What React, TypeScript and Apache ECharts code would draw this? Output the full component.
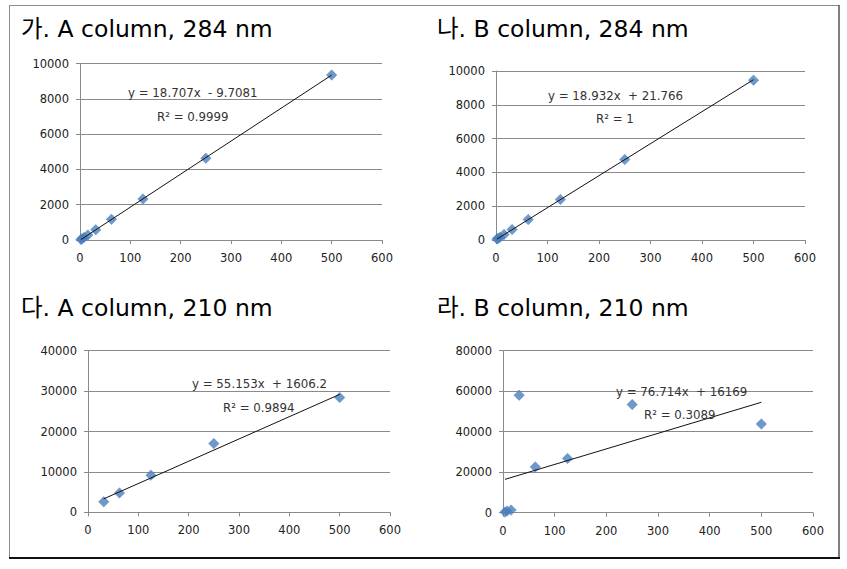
import React, { useEffect, useRef } from "react";
import * as echarts from "echarts";

const titles = ["가. A column, 284 nm", "나. B column, 284 nm", "다. A column, 210 nm", "라. B column, 210 nm"];

const xA284 = [1.95, 3.9, 7.8, 15.6, 31.25, 62.5, 125, 250, 500];
const yA284 = [30, 65, 140, 285, 580, 1170, 2320, 4630, 9345];

const xB284 = [1.95, 3.9, 7.8, 15.6, 31.25, 62.5, 125, 250, 500];
const yB284 = [60, 95, 170, 320, 620, 1210, 2390, 4760, 9460];

const xA210 = [31.25, 62.5, 125, 250, 500];
const yA210 = [2600, 4800, 9200, 17000, 28400];

const xB210 = [3.9, 7.8, 15.6, 31.25, 62.5, 125, 250, 500];
const yB210 = [300, 800, 1300, 58000, 22600, 26800, 53400, 43800];

const slopes = [18.707, 18.932, 55.153, 76.714];
const intercepts = [-9.7081, 21.766, 1606.2, 16169];
const equations = ["y = 18.707x  - 9.7081", "y = 18.932x  + 21.766", "y = 55.153x  + 1606.2", "y = 76.714x  + 16169"];
const rSquared = ["R² = 0.9999", "R² = 1", "R² = 0.9894", "R² = 0.3089"];

const yMax = [10000, 10000, 40000, 80000];
const yInterval = [2000, 2000, 10000, 20000];
const xMax = 600;
const xInterval = 100;

const xs = [xA284, xB284, xA210, xB210];
const ys = [yA284, yB284, yA210, yB210];

// layout (pixels)
const grids = [
  { left: 80, top: 63.5, width: 302, height: 176.5 },
  { left: 496, top: 71, width: 309, height: 169 },
  { left: 88, top: 350.7, width: 302, height: 161.6 },
  { left: 503, top: 350.7, width: 310, height: 162 },
];
const titlePos = [
  { x: 21, y: 29 },
  { x: 437, y: 29 },
  { x: 21, y: 308 },
  { x: 437, y: 308 },
];
const eqPos = [
  { x: 128, y: 93 },
  { x: 548, y: 96 },
  { x: 192, y: 384 },
  { x: 616, y: 392 },
];
const r2Pos = [
  { x: 157, y: 117 },
  { x: 596, y: 119 },
  { x: 223, y: 408 },
  { x: 644, y: 415 },
];

const GRID_COLOR = "#8a8a8a";
const LABEL_FONT = "DejaVu Sans";

export default function App() {
  const ref = useRef<HTMLDivElement>(null);
  useEffect(() => {
    if (!ref.current) return;
    const chart = echarts.init(ref.current, undefined, { renderer: "svg" });

    const plain = (v: number) => String(v);

    const xAxis = grids.map((_, i) => ({
      type: "value",
      gridIndex: i,
      min: 0,
      max: xMax,
      interval: xInterval,
      axisLine: { show: true, onZero: false, lineStyle: { color: GRID_COLOR, width: 1 } },
      axisTick: { show: true, inside: false, length: 4, lineStyle: { color: GRID_COLOR } },
      splitLine: { show: false },
      axisLabel: { color: "#222", fontSize: 11.5, fontFamily: LABEL_FONT, margin: 12, formatter: plain },
    }));
    const yAxis = grids.map((_, i) => ({
      type: "value",
      gridIndex: i,
      min: 0,
      max: yMax[i],
      interval: yInterval[i],
      axisLine: { show: true, onZero: false, lineStyle: { color: GRID_COLOR, width: 1 } },
      axisTick: { show: true, inside: false, length: 4, lineStyle: { color: GRID_COLOR } },
      splitLine: { show: true, lineStyle: { color: GRID_COLOR, width: 1 } },
      axisLabel: { color: "#222", fontSize: 11.5, fontFamily: LABEL_FONT, margin: 11, formatter: plain },
    }));

    const series: any[] = [];
    for (let i = 0; i < 4; i++) {
      const xv = xs[i];
      const yv = ys[i];
      const x0 = Math.min(...xv);
      const x1 = Math.max(...xv);
      series.push({
        type: "line",
        xAxisIndex: i,
        yAxisIndex: i,
        data: [
          [x0, slopes[i] * x0 + intercepts[i]],
          [x1, slopes[i] * x1 + intercepts[i]],
        ],
        showSymbol: false,
        symbol: "none",
        lineStyle: { color: "#111", width: 1 },
        z: 3,
        silent: true,
      });
      series.push({
        type: "scatter",
        xAxisIndex: i,
        yAxisIndex: i,
        data: xv.map((x, k) => [x, yv[k]]),
        symbol: "diamond",
        symbolSize: 10.5,
        itemStyle: { color: "#4A7EBB", borderColor: "#4A7EBB", borderWidth: 0.5 },
        z: 2,
      });
    }

    const graphic: any[] = [
      { type: "rect", shape: { x: 0, y: 0, width: 847, height: 569 }, style: { fill: "#fff" }, z: -10 },
      { type: "line", shape: { x1: 9, y1: 5.5, x2: 839, y2: 5.5 }, style: { stroke: "#8c8c8c", lineWidth: 1 } },
      { type: "line", shape: { x1: 9.5, y1: 5, x2: 9.5, y2: 558 }, style: { stroke: "#8c8c8c", lineWidth: 1 } },
      { type: "line", shape: { x1: 839, y1: 5, x2: 839, y2: 558 }, style: { stroke: "#555", lineWidth: 1.5 } },
      { type: "line", shape: { x1: 9, y1: 558, x2: 840, y2: 558 }, style: { stroke: "#111", lineWidth: 2 } },
    ];
    for (let i = 0; i < 4; i++) {
      graphic.push({
        type: "text",
        x: titlePos[i].x,
        y: titlePos[i].y,
        style: {
          text: titles[i],
          fill: "#000",
          font: '23.5px "DejaVu Sans", "Noto Sans CJK KR"',
          verticalAlign: "middle",
          align: "left",
        },
      });
      graphic.push({
        type: "text",
        x: eqPos[i].x,
        y: eqPos[i].y,
        z: 5,
        style: {
          text: equations[i],
          fill: "#333",
          font: '11.8px "DejaVu Sans"',
          verticalAlign: "middle",
          align: "left",
        },
      });
      graphic.push({
        type: "text",
        x: r2Pos[i].x,
        y: r2Pos[i].y,
        z: 5,
        style: {
          text: rSquared[i],
          fill: "#333",
          font: '11.8px "DejaVu Sans"',
          verticalAlign: "middle",
          align: "left",
        },
      });
    }

    chart.setOption({
      animation: false,
      backgroundColor: "#fff",
      grid: grids.map((g) => ({ ...g, containLabel: false })),
      xAxis,
      yAxis,
      series,
      graphic,
    });
    return () => chart.dispose();
  }, []);

  return (
    <div
      ref={ref}
      style={{ position: "fixed", left: 0, top: 0, width: 847, height: 569, background: "#fff" }}
    />
  );
}
